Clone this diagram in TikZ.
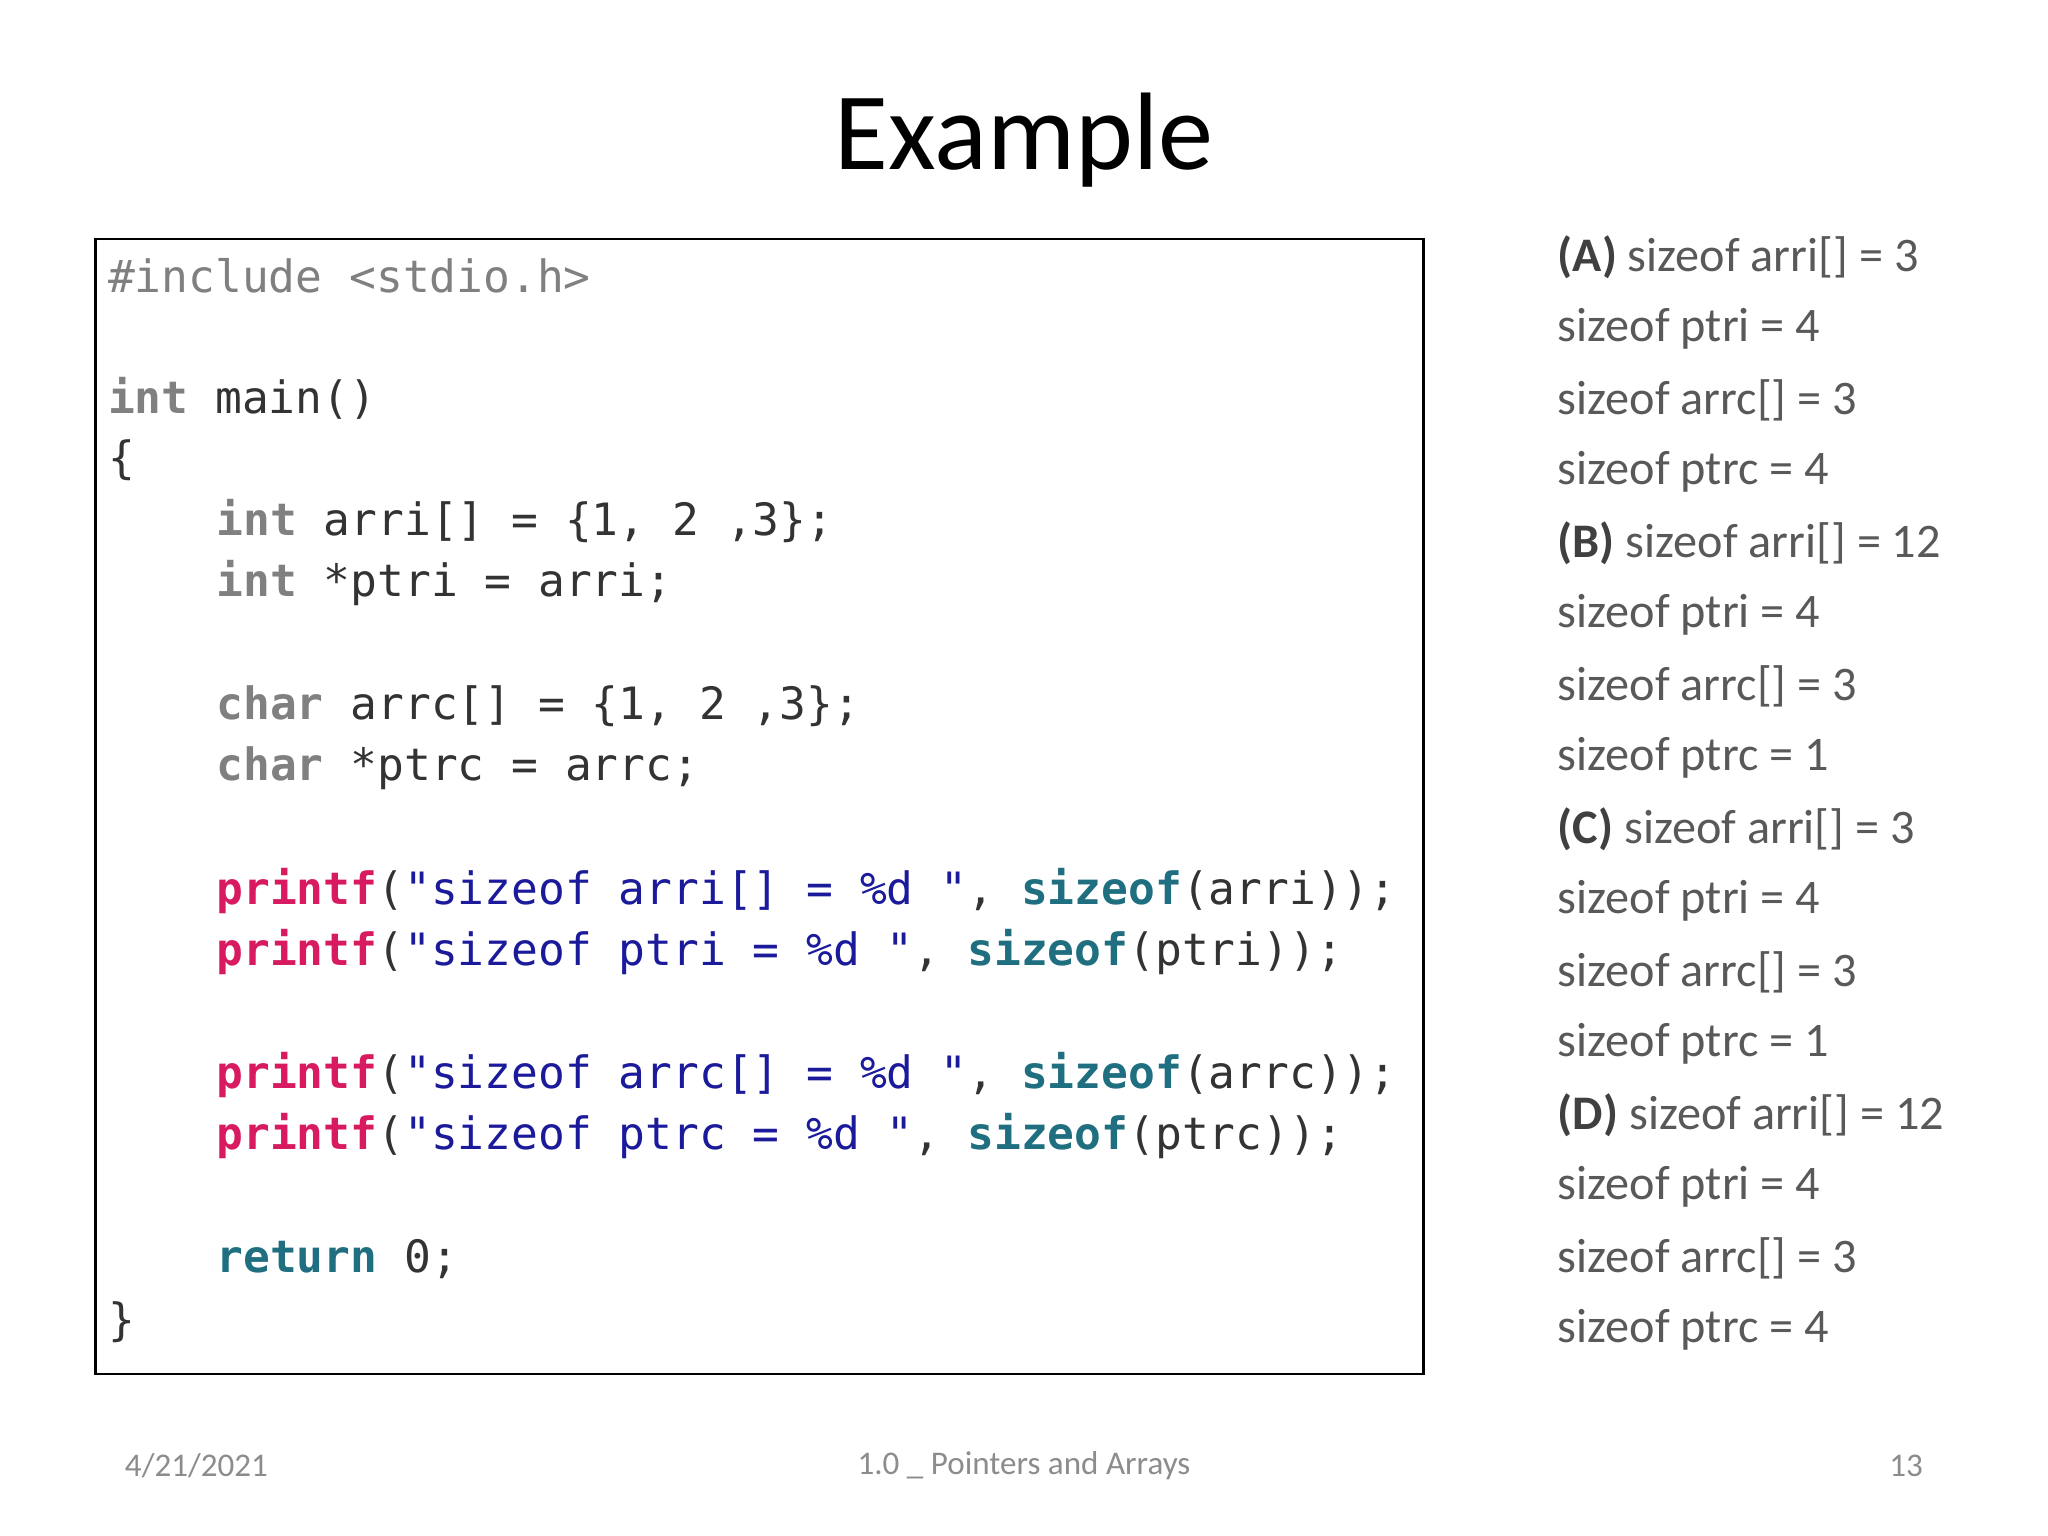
\documentclass[tikz,border=0pt]{standalone}
\usepackage{fontspec}
\setmainfont{Carlito}
\setmonofont{DejaVu Sans Mono}
\definecolor{kw}{HTML}{808080}
\definecolor{pf}{HTML}{D81B60}
\definecolor{st}{HTML}{1A1A9A}
\definecolor{sz}{HTML}{1F6F80}
\definecolor{tx}{HTML}{333333}
\definecolor{ans}{HTML}{595959}
\definecolor{foot}{HTML}{8C8C8C}
\newcommand{\cK}[1]{\textcolor{kw}{\textbf{#1}}}
\newcommand{\cP}{\textcolor{pf}{\textbf{printf}}}
\newcommand{\cS}[1]{\textcolor{st}{#1}}
\newcommand{\cZ}{\textcolor{sz}{\textbf{sizeof}}}
\begin{document}
\begin{tikzpicture}[x=0.01cm,y=-0.01cm,
  code/.style={anchor=west,inner sep=0pt,font=\fontsize{9.7}{11}\ttfamily,text=tx},
  ans/.style={anchor=west,inner sep=0pt,font=\fontsize{10.5}{12}\selectfont,text=ans},
  footer/.style={inner sep=0pt,font=\fontsize{7.2}{8}\selectfont,text=foot}]
\useasboundingbox (0,0) rectangle (1568,1176);
\node[font=\fontsize{24}{28}\selectfont] (title) at (784,107) {Example};
\draw[line width=0.6pt] (73,183) rectangle (1090,1052);
\node[code] (c1) at (82,211) {\textcolor{kw}{\#include <stdio.h>}};
\node[code] (c2) at (82,305) {\cK{int} main()};
\node[code] (c3) at (82,352) {\{};
\node[code] (c4) at (165,399) {\cK{int} arri[] = \{1, 2 ,3\};};
\node[code] (c5) at (165,446) {\cK{int} *ptri = arri;};
\node[code] (c6) at (165,541) {\cK{char} arrc[] = \{1, 2 ,3\};};
\node[code] (c7) at (165,588) {\cK{char} *ptrc = arrc;};
\node[code] (c8) at (165,682) {\cP(\cS{"sizeof arri[] = \%d "}, \cZ(arri));};
\node[code] (c9) at (165,729) {\cP(\cS{"sizeof ptri = \%d "}, \cZ(ptri));};
\node[code] (c10) at (165,823) {\cP(\cS{"sizeof arrc[] = \%d "}, \cZ(arrc));};
\node[code] (c11) at (165,870) {\cP(\cS{"sizeof ptrc = \%d "}, \cZ(ptrc));};
\node[code] (c12) at (165,964) {\textcolor{sz}{\textbf{return}} 0;};
\node[code] (c13) at (82,1012) {\}};
\foreach \t [count=\i from 0] in {%
 {\textbf{\textcolor{black!75}{(A)}} sizeof arri[] = 3},{sizeof ptri = 4},{sizeof arrc[] = 3},{sizeof ptrc = 4},
 {\textbf{\textcolor{black!75}{(B)}} sizeof arri[] = 12},{sizeof ptri = 4},{sizeof arrc[] = 3},{sizeof ptrc = 1},
 {\textbf{\textcolor{black!75}{(C)}} sizeof arri[] = 3},{sizeof ptri = 4},{sizeof arrc[] = 3},{sizeof ptrc = 1},
 {\textbf{\textcolor{black!75}{(D)}} sizeof arri[] = 12},{sizeof ptri = 4},{sizeof arrc[] = 3},{sizeof ptrc = 4}}
 \node[ans] (a\i) at (1192,{197+54.75*\i}) {\t};
\node[footer,anchor=west] (date) at (95,1122) {4/21/2021};
\node[footer] (ftitle) at (784,1122) {1.0 \_ Pointers and Arrays};
\node[footer,anchor=east] (page) at (1473,1122) {13};
\end{tikzpicture}
\end{document}
